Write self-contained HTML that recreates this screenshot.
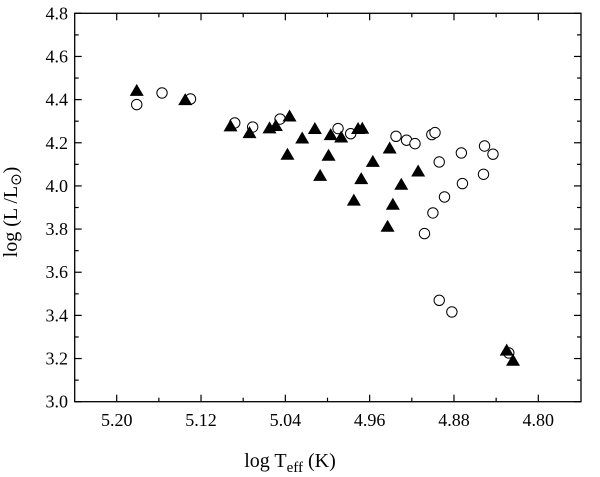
<!DOCTYPE html>
<html><head><meta charset="utf-8"><style>
body{margin:0;background:#fff;width:600px;height:477px;overflow:hidden}
svg{display:block}
svg text{font-family:"Liberation Serif","Times New Roman",serif}
</style></head><body>
<svg id="chart" width="600" height="477" viewBox="0 0 600 477" font-family="Liberation Serif, serif">
<rect x="74.7" y="13.3" width="506.3" height="388.4" fill="none" stroke="#000" stroke-width="1.3"/>
<g id="ticks"></g>
<g id="marks"></g>
<text x="17" y="212" transform="rotate(-90 17 212)" text-anchor="middle" font-size="20" font-family="Liberation Serif, serif">log (L /L<tspan font-size="15" dy="4">⊙</tspan><tspan dy="-4">)</tspan></text>
<text x="290" y="467" text-anchor="middle" font-size="20" font-family="Liberation Serif, serif">log T<tspan font-size="15" dy="5">eff</tspan><tspan dy="-5"> (K)</tspan></text>
</svg>
<script>
const triT=[5.181,5.135,5.092,5.074,5.055,5.049,5.036,5.038,5.024,5.012,5.007,4.999,4.997,4.987,4.975,4.971,4.967,4.968,4.957,4.941,4.943,4.938,4.930,4.914,4.830,4.824];
const triL=[4.443,4.40,4.278,4.247,4.269,4.28,4.324,4.147,4.222,4.266,4.049,4.142,4.238,4.227,3.934,4.266,4.267,4.034,4.114,4.176,3.813,3.915,4.008,4.069,3.239,3.192];
const cirT=[5.181,5.157,5.130,5.088,5.071,5.045,4.990,4.978,4.935,4.925,4.917,4.901,4.898,4.894,4.873,4.851,4.843,4.889,4.872,4.852,4.900,4.908,4.894,4.882,4.828];
const cirL=[4.377,4.431,4.403,4.292,4.273,4.310,4.266,4.242,4.230,4.212,4.196,4.238,4.247,4.111,4.153,4.185,4.147,3.949,4.011,4.054,3.875,3.779,3.470,3.416,3.226];
const xTicks=["5.20","5.12","5.04","4.96","4.88","4.80"];
const yTicks=["3.0","3.2","3.4","3.6","3.8","4.0","4.2","4.4","4.6","4.8"];
const NS="http://www.w3.org/2000/svg";
const X0=74.7,X1=581,Y0=401.7,Y1=13.3;
function sx(t){return 116.7+(5.20-t)*1054;}
function sy(l){return Y0-(l-3.0)*(Y0-Y1)/1.8;}
function mk(tag,at,parent){const e=document.createElementNS(NS,tag);for(const k in at)e.setAttribute(k,at[k]);parent.appendChild(e);return e;}
const tg=document.getElementById('ticks'),mg=document.getElementById('marks');
for(let i=-1;i<=2*xTicks.length;i++){
  const t=5.20-i*0.04;const x=sx(t);if(x<X0+1||x>X1-1)continue;
  const len=(i%2===0)?7:4;
  const a=mk('line',{x1:x,x2:x,y1:Y0,y2:Y0-len,stroke:'#000','stroke-width':1.2},tg);
  
  
  const b=mk('line',{x1:x,x2:x,y1:Y1,y2:Y1+len,stroke:'#000','stroke-width':1.2},tg);
  
  
}
xTicks.forEach((s,i)=>{const e=mk('text',{x:sx(parseFloat(s)),y:426,'text-anchor':'middle','font-size':18,'font-family':'Liberation Serif, serif'},tg);e.textContent=s;
  
  });
for(let i=0;i<=18;i++){
  const y=sy(3.0+i*0.1);const len=(i%2===0)?7:4;
  const a=mk('line',{x1:X0,x2:X0+len,y1:y,y2:y,stroke:'#000','stroke-width':1.2},tg);
  
  
  const b=mk('line',{x1:X1,x2:X1-len,y1:y,y2:y,stroke:'#000','stroke-width':1.2},tg);
  
  
}
yTicks.forEach(s=>{const e=mk('text',{x:68,y:sy(parseFloat(s))+6,'text-anchor':'end','font-size':18,'font-family':'Liberation Serif, serif'},tg);e.textContent=s;
  
  });
cirT.forEach((t,i)=>{const c=mk('circle',{cx:sx(t),cy:sy(cirL[i]),r:5.2,fill:'#fff',stroke:'#000','stroke-width':1},mg);
  
  });
triT.forEach((t,i)=>{const x=sx(t),y=sy(triL[i]);
  const p=mk('polygon',{points:`${x-7},${y+5.5} ${x+7},${y+5.5} ${x},${y-6.5}`,fill:'#000'},mg);
  
  });
</script>
</body></html>
